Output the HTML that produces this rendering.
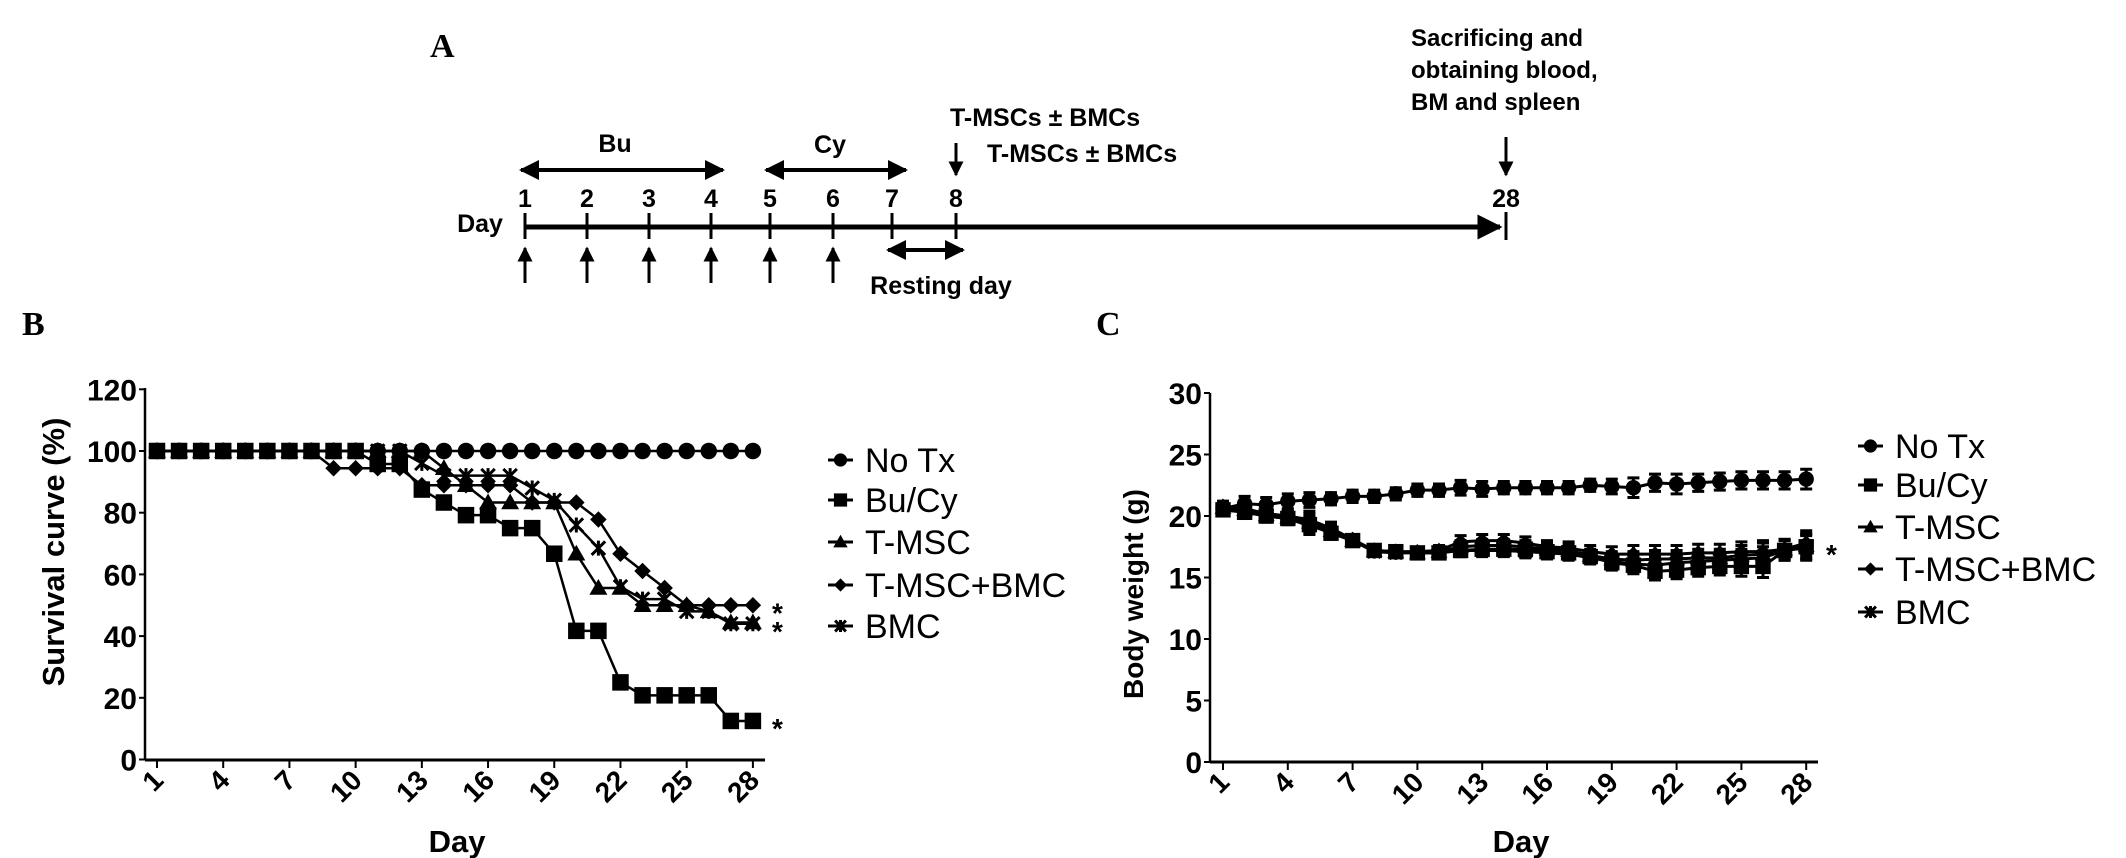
<!DOCTYPE html>
<html><head><meta charset="utf-8"><style>
html,body{margin:0;padding:0;background:#fff;}
svg{display:block;font-family:"Liberation Sans",Arial,sans-serif;}
</style></head><body>
<svg id="fig" width="2126" height="858" viewBox="0 0 2126 858" xmlns="http://www.w3.org/2000/svg">
<defs>
<marker id="ah" viewBox="0 0 10 10" refX="9" refY="5" markerWidth="5" markerHeight="5" orient="auto-start-reverse"><path d="M0,0 L10,5 L0,10 z" fill="#000"/></marker>
</defs>
<!-- Panel A -->
<g font-weight="bold" fill="#000">
<text x="430" y="57" font-family="Liberation Serif,serif" font-size="34">A</text>
<line x1="525" y1="227" x2="1500" y2="227" stroke="#000" stroke-width="5" marker-end="url(#ah)"/>
<line x1="1506" y1="212" x2="1506" y2="240" stroke="#000" stroke-width="3"/>
<g id="aTicks"></g>
<text x="480" y="232" font-size="25" text-anchor="middle">Day</text>
<line x1="521" y1="170" x2="723" y2="170" stroke="#000" stroke-width="4" marker-start="url(#ah)" marker-end="url(#ah)"/>
<text x="615" y="152" font-size="25" text-anchor="middle">Bu</text>
<line x1="766" y1="170" x2="906" y2="170" stroke="#000" stroke-width="4" marker-start="url(#ah)" marker-end="url(#ah)"/>
<text x="830" y="153" font-size="25" text-anchor="middle">Cy</text>
<line x1="888" y1="250" x2="963" y2="250" stroke="#000" stroke-width="4" marker-start="url(#ah)" marker-end="url(#ah)"/>
<text x="941" y="294" font-size="25" text-anchor="middle">Resting day</text>
<line x1="956" y1="143" x2="956" y2="175" stroke="#000" stroke-width="3" marker-end="url(#ah)"/>
<text x="950" y="126" font-size="25">T-MSCs ± BMCs</text>
<text x="987" y="162" font-size="25">T-MSCs ± BMCs</text>
<line x1="1506" y1="137" x2="1506" y2="175" stroke="#000" stroke-width="3" marker-end="url(#ah)"/>
<text x="1411" y="46" font-size="24">Sacrificing and</text>
<text x="1411" y="78" font-size="24">obtaining blood,</text>
<text x="1411" y="110" font-size="24">BM and spleen</text>
</g>
<text x="22" y="335" font-family="Liberation Serif,serif" font-weight="bold" font-size="34">B</text>
<text x="1096" y="335" font-family="Liberation Serif,serif" font-weight="bold" font-size="34">C</text>
<g id="chartB"></g>
<g id="chartC"></g>
</svg>
<script>
// ---- Panel A ticks
const aDays=[1,2,3,4,5,6,7,8];
const aX=[525,587,649,711,770,833,892,956];
// ---- Panel B data
const daysB=[1,2,3,4,5,6,7,8,9,10,11,12,13,14,15,16,17,18,19,20,21,22,23,24,25,26,27,28];
const survNoTx=[100,100,100,100,100,100,100,100,100,100,100,100,100,100,100,100,100,100,100,100,100,100,100,100,100,100,100,100];
const survBuCy=[100,100,100,100,100,100,100,100,100,100,95.8,95.8,87.5,83.3,79.2,79.2,75,75,66.7,41.7,41.7,25,20.8,20.8,20.8,20.8,12.5,12.5];
const survTMSC=[100,100,100,100,100,100,100,100,100,100,100,100,100,94.4,88.9,83.3,83.3,83.3,83.3,66.7,55.6,55.6,50,50,50,48,44.4,44.4];
const survTMSCBMC=[100,100,100,100,100,100,100,100,94.4,94.4,94.4,94.4,88.9,88.9,88.9,88.9,88.9,83.3,83.3,83.3,77.8,66.7,61.1,55.6,50,50,50,50];
const survBMC=[100,100,100,100,100,100,100,100,100,100,100,100,96,92,92,92,92,88,84,76,68.5,56,52,52,48,48,44,44];
const yTicksB=[0,20,40,60,80,100,120];
const xTickLabels=[1,4,7,10,13,16,19,22,25,28];
const legendLabels=["No Tx","Bu/Cy","T-MSC","T-MSC+BMC","BMC"];
const starsB=[50,44,12.5];
// ---- Panel C data
const wNoTx=[20.6,21.0,20.9,21.2,21.3,21.4,21.6,21.6,21.8,22.1,22.1,22.3,22.2,22.3,22.3,22.3,22.3,22.5,22.4,22.3,22.7,22.6,22.7,22.8,22.9,22.9,22.9,23.0];
const wBuCy=[20.5,20.3,20.0,19.8,19.3,18.6,18.0,17.2,17.1,17.0,17.0,17.2,17.3,17.3,17.3,17.1,17.0,16.7,16.2,16.0,15.5,15.6,15.8,15.9,15.9,15.9,17.2,17.5];
const wTMSC=[20.7,20.5,20.1,19.9,19.5,18.8,18.0,17.2,17.1,17.0,17.1,17.5,17.6,17.6,17.5,17.3,17.2,16.8,16.5,16.4,16.5,16.5,16.6,16.6,16.8,16.9,17.3,17.6];
const wTMSCBMC=[20.8,20.6,20.2,20.0,19.7,19.0,18.1,17.2,17.1,17.1,17.2,17.9,18.0,18.0,17.8,17.5,17.4,17.1,16.9,16.9,16.9,16.9,17.0,17.0,17.1,17.1,17.3,17.8];
const wBMC=[20.6,20.4,20.0,19.8,19.2,18.7,18.0,17.1,17.0,17.0,17.0,17.2,17.2,17.2,17.1,17.0,16.9,16.6,16.3,16.1,16.0,16.2,16.3,16.4,16.5,16.6,17.2,17.4];
const errNoTx=[0.6,0.6,0.6,0.6,0.6,0.5,0.5,0.5,0.5,0.5,0.5,0.6,0.6,0.5,0.5,0.5,0.5,0.5,0.6,0.8,0.7,0.8,0.7,0.7,0.7,0.7,0.7,0.8];
const errOther=[0.4,0.5,0.5,0.5,0.7,0.5,0.4,0.3,0.3,0.3,0.4,0.5,0.5,0.5,0.5,0.5,0.5,0.5,0.6,0.7,0.7,0.7,0.7,0.7,0.8,0.9,0.8,1.0];
const yTicksC=[0,5,10,15,20,25,30];

const NS="http://www.w3.org/2000/svg";
function mk(tag,attrs,parent){const e=document.createElementNS(NS,tag);for(const k in attrs)e.setAttribute(k,attrs[k]);parent.appendChild(e);return e;}

// Panel A ticks + arrows
const aT=document.getElementById('aTicks');
aDays.forEach((d,i)=>{
  const x=aX[i];
  const t=mk('line',{x1:x,y1:213,x2:x,y2:239,stroke:'#000','stroke-width':3},aT);
  
  
  const lb=mk('text',{x:x,y:207,'font-size':25,'font-weight':'bold','text-anchor':'middle'},aT);
  lb.textContent=d;
  
  
  if(d<=6){
    const ar=mk('line',{x1:x,y1:283,x2:x,y2:248,stroke:'#000','stroke-width':3,'marker-end':'url(#ah)'},aT);
    
    
  }
});
{const lb=mk('text',{x:1506,y:207,'font-size':25,'font-weight':'bold','text-anchor':'middle'},aT);lb.textContent='28';

}

function drawMarker(g,type,x,y,s){
  let m;
  if(type==='circle') m=mk('circle',{cx:x,cy:y,r:s*0.55,fill:'#000'},g);
  else if(type==='square') m=mk('rect',{x:x-s*0.55,y:y-s*0.55,width:s*1.1,height:s*1.1,fill:'#000'},g);
  else if(type==='triangle') m=mk('path',{d:`M${x},${y-s*0.6}L${x+s*0.6},${y+s*0.45}L${x-s*0.6},${y+s*0.45}Z`,fill:'#000'},g);
  else if(type==='diamond') m=mk('path',{d:`M${x},${y-s*0.55}L${x+s*0.55},${y}L${x},${y+s*0.55}L${x-s*0.55},${y}Z`,fill:'#000'},g);
  else { m=mk('path',{d:`M${x-s*0.45},${y-s*0.45}L${x+s*0.45},${y+s*0.45}M${x+s*0.45},${y-s*0.45}L${x-s*0.45},${y+s*0.45}M${x},${y-s*0.5}L${x},${y+s*0.5}`,stroke:'#000','stroke-width':3},g);}
  
  
}
const mtypes=['circle','square','triangle','diamond','cross'];

function drawChart(opt){
  const g=document.getElementById(opt.id);
  const {x0,x1,yTop,yBot,xs,ys}=opt;
  const ya=mk('line',{x1:x0,y1:yTop,x2:x0,y2:yBot,stroke:'#000','stroke-width':2.5},g);
  
  
  const xa=mk('line',{x1:x0,y1:yBot,x2:x1,y2:yBot,stroke:'#000','stroke-width':3},g);
  
  
  opt.yTicks.forEach(v=>{
    const y=ys(v);
    const t=mk('line',{x1:x0-6,y1:y,x2:x0,y2:y,stroke:'#000','stroke-width':2},g);
    
    
    const l=mk('text',{x:x0-8,y:y+11,'font-size':30,'font-weight':'bold','text-anchor':'end'},g);
    l.textContent=v;
    
    
  });
  xTickLabels.forEach(d=>{
    const x=xs(d);
    const t=mk('line',{x1:x,y1:yBot,x2:x,y2:yBot+8,stroke:'#000','stroke-width':2},g);
    
    
    const l=mk('text',{x:x+8,y:yBot+22,'font-size':28,'font-weight':'bold','text-anchor':'end',transform:`rotate(-45 ${x+8} ${yBot+22})`},g);
    l.textContent=d;
    
    
  });
  const xt=mk('text',{x:opt.xTitleX,y:852,'font-size':31,'font-weight':'bold','text-anchor':'middle'},g);
  xt.textContent='Day';
  
  
  const yt=mk('text',{x:opt.yTitleX,y:opt.yTitleY,'font-size':opt.yTitleSize,'font-weight':'bold','text-anchor':'middle',transform:`rotate(-90 ${opt.yTitleX} ${opt.yTitleY})`},g);
  yt.textContent=opt.yTitle;
  
  
  opt.series.forEach((vals,si)=>{
    const sg=mk('g',{},g);
    
    
    const pts=vals.map((v,i)=>xs(daysB[i])+','+ys(v)).join(' ');
    const pl=mk('polyline',{points:pts,fill:'none',stroke:'#000','stroke-width':opt.lw},sg);
    
    
    if(opt.errs){
      const er=opt.errs[si];
      vals.forEach((v,i)=>{
        const x=xs(daysB[i]);
        const e=mk('path',{d:`M${x},${ys(v+er[i])}V${ys(v-er[i])}M${x-6},${ys(v+er[i])}H${x+6}M${x-6},${ys(v-er[i])}H${x+6}`,stroke:'#000','stroke-width':3,fill:'none'},sg);
        
        
      });
    }
    vals.forEach((v,i)=>drawMarker(sg,mtypes[si],xs(daysB[i]),ys(v),opt.ms));
  });
  legendLabels.forEach((lab,i)=>{
    const y=opt.legY[i];
    const lg=mk('g',{},g);
    
    
    mk('line',{x1:opt.legX,y1:y,x2:opt.legX+25,y2:y,stroke:'#000','stroke-width':3},lg);
    drawMarker(lg,mtypes[i],opt.legX+12.5,y,12);
    const t=mk('text',{x:opt.legX+37,y:y+12,'font-size':34},lg);
    t.textContent=lab;
    
    
  });
  opt.stars.forEach(v=>{
    const s=mk('text',{x:opt.starX,y:ys(v)+17,'font-size':28,'font-weight':'bold'},g);
    s.textContent='*';
    
    
  });
}

drawChart({id:'chartB',x0:145,x1:765,yTop:388,yBot:760,
  xs:d=>157+(d-1)*22.07, ys:v=>759.5-v*3.085,
  yTicks:yTicksB, series:[survNoTx,survBuCy,survTMSC,survTMSCBMC,survBMC], ms:15, lw:2.5,
  yTitle:'Survival curve (%)', yTitleSize:31, yTitleX:64, yTitleY:552, xTitleX:457,
  legX:828, legY:[460,500,542,585,626], stars:starsB, starX:772});
drawChart({id:'chartC',x0:1210,x1:1818,yTop:393,yBot:762,
  xs:d=>1223+(d-1)*21.6, ys:v=>762-v*12.3,
  yTicks:yTicksC, series:[wNoTx,wBuCy,wTMSC,wTMSCBMC,wBMC], ms:14, lw:3,
  errs:[errNoTx,errOther,errOther,errOther,errOther],
  yTitle:'Body weight (g)', yTitleSize:28, yTitleX:1143, yTitleY:594, xTitleX:1521,
  legX:1858, legY:[446,485,527,569,612], stars:[17.5], starX:1826});
</script>
</body></html>
